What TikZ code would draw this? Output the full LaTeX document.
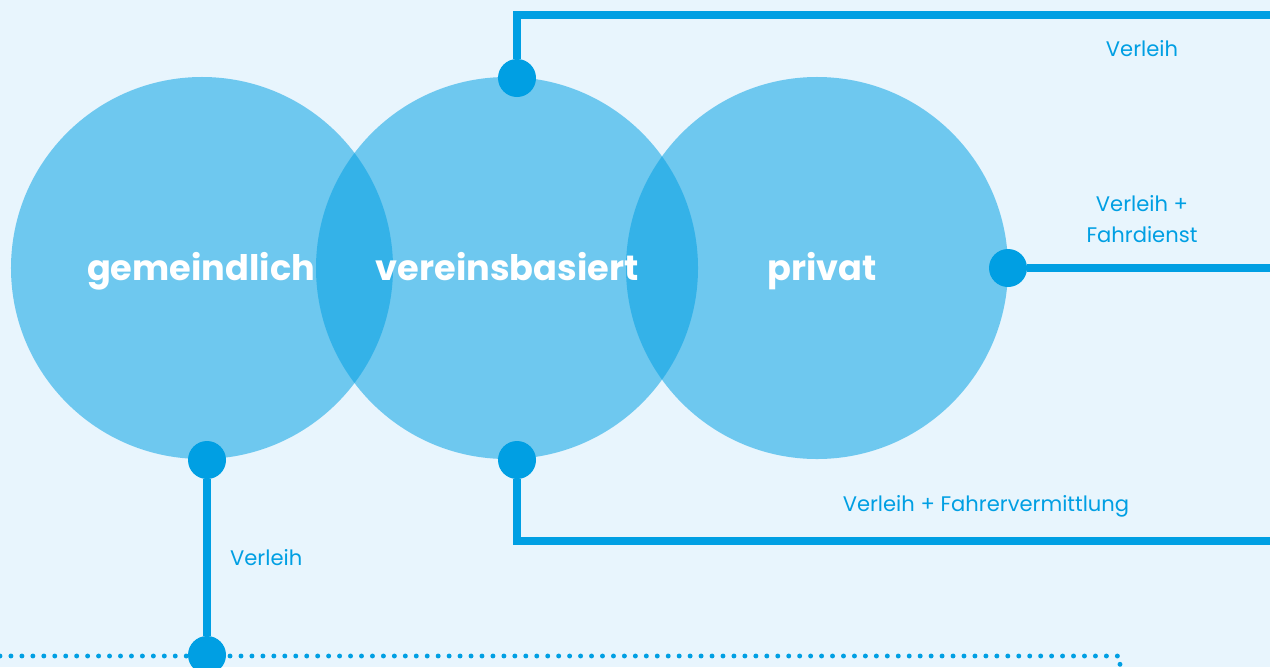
\documentclass[tikz,border=0pt]{standalone}
\usepackage{fontspec}
\setmainfont{Poppins}
\usetikzlibrary{positioning}

\definecolor{lineblue}{HTML}{009FE3}
\definecolor{bgblue}{HTML}{E8F5FD}

\def\px{0.03cm}

\begin{document}
\begin{tikzpicture}[x=\px,y=-\px,
    ring/.style={fill=lineblue,fill opacity=.52},
    link/.style={draw=lineblue,line width=6.4pt,line join=miter},
    dot/.style={circle,fill=lineblue,inner sep=0pt,minimum size=1.14cm},
    sector/.style={text=white,anchor=base,font=\fontsize{30}{36}\selectfont\bfseries},
    offer/.style={text=lineblue,font=\fontsize{18}{27}\selectfont,align=center}]

  \useasboundingbox (0,0) rectangle (1270,667);
  \fill[bgblue] (0,0) rectangle (1270,667);

  % the three sectors
  \fill[ring] (202,268) circle[radius=5.73cm];
  \fill[ring] (507,268) circle[radius=5.73cm];
  \fill[ring] (817,268) circle[radius=5.73cm];

  % base line
  \draw[lineblue,line width=4.2pt,line cap=round,dash pattern=on 0pt off 9.35pt]
    (0,656) -- (1120,656) -- (1120,700);

  % anchors on the circles
  \node[dot] (vertop) at (517,78) {};
  \node[dot] (privright) at (1008,268) {};
  \node[dot] (verbot) at (517,460) {};
  \node[dot] (gembot) at (207,460) {};
  \node[dot] (base) at (207,655) {};

  \coordinate (topbend) at (517,15);
  \coordinate (topend) at (1280,15);
  \coordinate (midend) at (1280,268);
  \coordinate (botbend) at (517,541);
  \coordinate (botend) at (1280,541);

  \draw[link] (vertop) -- (topbend) -- (topend);
  \draw[link] (privright) -- (midend);
  \draw[link] (verbot) -- (botbend) -- (botend);
  \draw[link] (gembot) -- (base);

  \node[sector] (gem) at (201,280) {gemeindlich};
  \node[sector] (ver) at (507,280) {vereinsbasiert};
  \node[sector] (priv) at (822,280) {privat};

  \node[offer] (o1) at (1142,49) {Verleih};
  \node[offer] (o2) at (1142,219) {Verleih +\\Fahrdienst};
  \node[offer] (o3) at (986,506) {Verleih + Fahrervermittlung};
  \node[offer,anchor=west] (o4) at (226,558) {Verleih};

\end{tikzpicture}
\end{document}
